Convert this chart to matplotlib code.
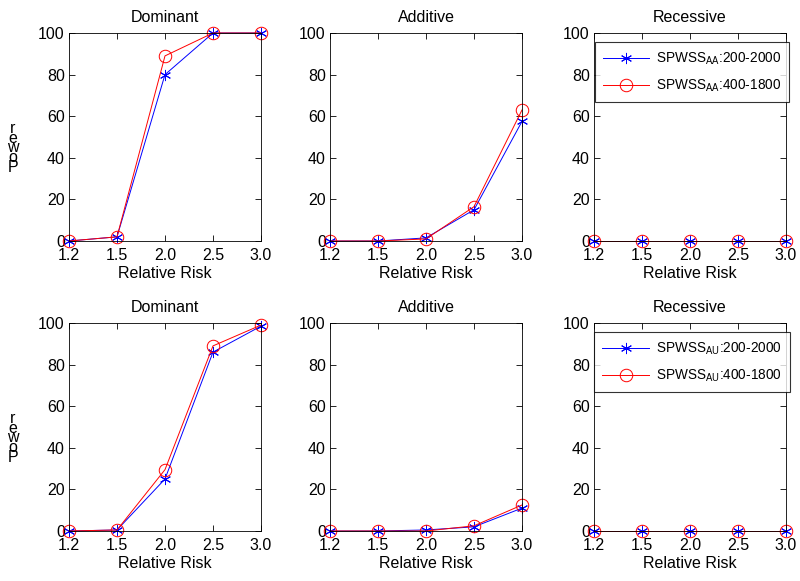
import matplotlib.pyplot as plt

plt.rcParams['font.family'] = ['Liberation Sans', 'DejaVu Sans']
plt.rcParams['mathtext.fontset'] = 'custom'
plt.rcParams['mathtext.rm'] = 'Liberation Sans'
plt.rcParams['mathtext.it'] = 'Liberation Sans'

risk_labels = ["1.2", "1.5", "2.0", "2.5", "3.0"]
models = ["Dominant", "Additive", "Recessive"]

# rangée du haut (AA)
aa_blue = {
    "Dominant": [0, 2, 80, 100, 100],
    "Additive": [0, 0, 1.5, 15, 57.5],
    "Recessive": [0, 0, 0, 0, 0],
}
aa_red = {
    "Dominant": [0, 2, 89, 100, 100],
    "Additive": [0, 0, 1, 16.5, 63],
    "Recessive": [0, 0, 0, 0, 0],
}
# rangée du bas (AU)
au_blue = {
    "Dominant": [0, 0.5, 25, 86, 98.5],
    "Additive": [0, 0, 0.5, 2, 11],
    "Recessive": [0, 0, 0, 0, 0],
}
au_red = {
    "Dominant": [0, 0.5, 29.5, 89, 99],
    "Additive": [0, 0, 0, 2.5, 12.5],
    "Recessive": [0, 0, 0, 0, 0],
}

rows = [
    (aa_blue, aa_red, "AA"),
    (au_blue, au_red, "AU"),
]

W, H = 800, 581
fig = plt.figure(figsize=(8, 5.81), dpi=100)

lefts = [69, 330, 594]
tops = [33, 323]
aw, ah = 192, 208

x = list(range(len(risk_labels)))

for r, (blue, red, sub) in enumerate(rows):
    for c, model in enumerate(models):
        ax = fig.add_axes([lefts[c] / W, 1 - (tops[r] + ah) / H, aw / W, ah / H])
        ax.plot(x, blue[model], color='blue', lw=0.7, marker=(6, 2, 0),
                ms=8, mew=0.7, clip_on=False,
                label=r'SPWSS$_{\mathrm{%s}}$:200-2000' % sub)
        ax.plot(x, red[model], color='red', lw=0.7, marker='o', ms=9,
                mfc='none', mew=0.7, clip_on=False,
                label=r'SPWSS$_{\mathrm{%s}}$:400-1800' % sub)
        ax.set_xlim(0, 4)
        ax.set_ylim(0, 100)
        ax.set_xticks(x)
        ax.set_xticklabels(risk_labels)
        ax.set_yticks(range(0, 101, 20))
        ax.tick_params(direction='in', top=True, right=True, labelsize=11.5,
                       length=4, width=0.6)
        ax.tick_params(axis='x', pad=5)
        ax.tick_params(axis='y', pad=3)
        for s in ax.spines.values():
            s.set_linewidth(0.6)
        ax.set_title(model, fontsize=11.5, pad=8)
        ax.set_xlabel("Relative Risk", fontsize=11.5, labelpad=2)
        if c == 2:
            leg = ax.legend(loc='upper center', bbox_to_anchor=(0.51, 0.955),
                            fontsize=9.8, frameon=True,
                            fancybox=False, edgecolor='black', handlelength=3.4,
                            borderpad=0.6, labelspacing=0.8, handletextpad=0.5,
                            borderaxespad=0)
            leg.get_frame().set_linewidth(0.8)
        if c == 0:
            fig.text(13 / W, 1 - (tops[r] + 115) / H, "r\ne\nw\no\nP",
                     ha='center', va='center', fontsize=11.5, linespacing=0.55)

fig.savefig("out.png", dpi=100)
